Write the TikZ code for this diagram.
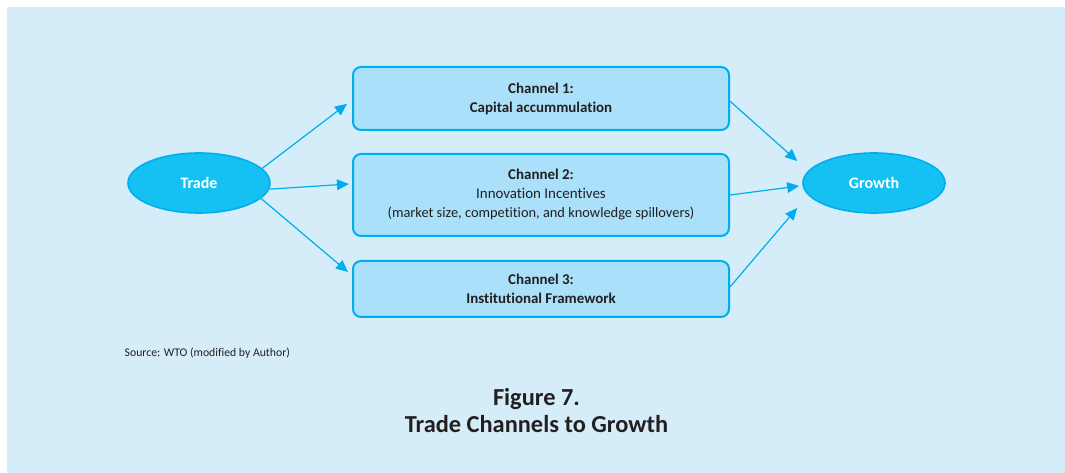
\documentclass[tikz,border=0pt]{standalone}
\usepackage{fontspec}
\setmainfont{Carlito}[RawFeature=-liga,RawFeature=-clig,RawFeature=-dlig,RawFeature=-calt]
\usepackage{xcolor}
\usetikzlibrary{arrows.meta,shapes.geometric}

\definecolor{panelblue}{HTML}{D5EDF9}
\definecolor{boxblue}{HTML}{AAE0FA}
\definecolor{cyanline}{HTML}{00AEEF}
\definecolor{ovalblue}{HTML}{14C1F2}
\definecolor{inkgray}{HTML}{231F20}

\begin{document}
\begin{tikzpicture}[x=0.75pt,y=-0.75pt,
  channel/.style={draw=cyanline,fill=boxblue,line width=1.5pt,rounded corners=6pt,
    minimum width=282pt,align=center,text=inkgray,font=\fontsize{11.2}{14.25}\selectfont},
  oval/.style={ellipse,draw=cyanline,fill=ovalblue,line width=1.2pt,minimum width=106.5pt,
    minimum height=45pt,inner sep=0pt,text=white,font=\fontsize{12}{14}\selectfont\bfseries},
  link/.style={cyanline,line width=0.9pt,-{Triangle[length=9pt,width=8pt]}}]
\useasboundingbox (0,0) rectangle (1065,473);
\fill[panelblue] (7,7) rectangle (1065,473);

\node[oval] (trade) at (199,183) {Trade};
\node[oval] (growth) at (874,183) {Growth};
\node[channel,minimum height=47.25pt] (c1) at (541,98.5) {\textbf{Channel 1:}\\ \textbf{Capital accummulation}};
\node[channel,minimum height=61.5pt] (c2) at (541,195) {\textbf{Channel 2:}\\ Innovation Incentives\\ {\fontsize{10.8}{14.25}\selectfont (market size, competition, and knowledge spillovers)}};
\node[channel,minimum height=42pt] (c3) at (541,289) {\textbf{Channel 3:}\\ \textbf{Institutional Framework}};

\draw[link] (trade.13) -- ([xshift=-3.75pt,yshift=-4pt]c1.west);
\draw[link] (trade.-5) -- ([xshift=-2.25pt,yshift=8.25pt]c2.west);
\draw[link] (trade.-14) -- ([xshift=-3pt,yshift=12.75pt]c3.west);
\draw[link] ([yshift=-2pt]c1.east) -- ([xshift=-3.75pt,yshift=16.5pt]growth.west);
\draw[link] (c2.east) -- ([xshift=-2.25pt,yshift=-2.25pt]growth.west);
\draw[link] ([yshift=1.5pt]c3.east) -- ([xshift=-3.75pt,yshift=-18.75pt]growth.west);

\node[anchor=west,text=inkgray,font=\fontsize{8.8}{10}\selectfont] (source) at (120,353) {Source: WTO (modified by Author)};
\node[text=inkgray,font=\fontsize{18.3}{20}\selectfont\bfseries] (fignum) at (536.5,399) {Figure 7.};
\node[text=inkgray,font=\fontsize{18.3}{20}\selectfont\bfseries] (figtitle) at (536.5,424) {Trade Channels to Growth};
\end{tikzpicture}
\end{document}
